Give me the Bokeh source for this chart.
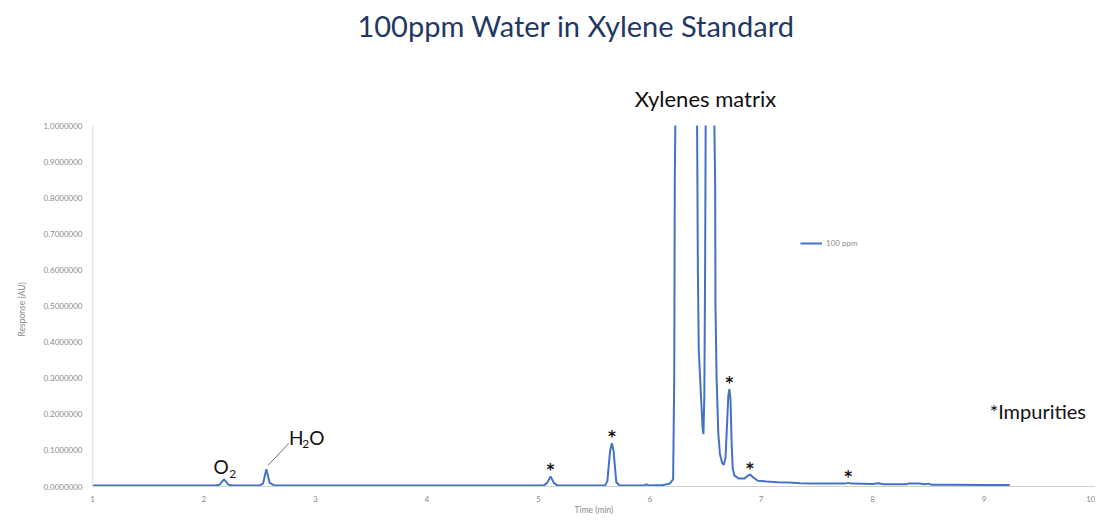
import numpy as np
from bokeh.plotting import figure
from bokeh.models import Label, FixedTicker, PrintfTickFormatter, Range1d, Title
from bokeh.embed import file_html
from bokeh.resources import INLINE

nan = float("nan")

# ---- data (off-scale readings above 1.0 are NaN) ----
time_min = [1.00, 2.10, 2.14, 2.18, 2.22, 2.26, 2.50, 2.53, 2.56, 2.59, 2.63,
            5.05, 5.08, 5.11, 5.14, 5.17, 5.60, 5.62, 5.645, 5.66, 5.675, 5.70, 5.73,
            5.95, 5.97, 5.99, 6.12, 6.18, 6.21, 6.22, 6.225, 6.23, 6.33,
            6.425, 6.432, 6.44, 6.46, 6.475, 6.482, 6.49, 6.497, 6.502, 6.54,
            6.58, 6.587, 6.59, 6.60, 6.615, 6.63, 6.65, 6.665, 6.68, 6.695, 6.705,
            6.715, 6.725, 6.735, 6.745, 6.76, 6.80, 6.85, 6.88, 6.90, 6.93, 6.97,
            7.05, 7.15, 7.25, 7.35, 7.45, 7.60, 7.75, 7.78, 7.81, 8.00, 8.05, 8.10,
            8.30, 8.32, 8.42, 8.47, 8.50, 8.53, 8.70, 9.00, 9.23]
response = [0.003, 0.003, 0.005, 0.020, 0.005, 0.003, 0.003, 0.008, 0.048, 0.010, 0.003,
            0.003, 0.010, 0.028, 0.010, 0.003, 0.003, 0.015, 0.100, 0.120, 0.100, 0.012, 0.003,
            0.003, 0.006, 0.003, 0.004, 0.008, 0.020, 0.300, 0.850, 1.000, nan,
            1.000, 0.600, 0.380, 0.250, 0.160, 0.145, 0.250, 0.600, 1.000, nan,
            1.000, 0.850, 0.500, 0.300, 0.150, 0.090, 0.065, 0.060, 0.080, 0.180, 0.250,
            0.270, 0.240, 0.120, 0.050, 0.030, 0.022, 0.022, 0.030, 0.033, 0.025, 0.016,
            0.014, 0.012, 0.011, 0.009, 0.008, 0.008, 0.008, 0.010, 0.008, 0.007, 0.009, 0.006,
            0.006, 0.008, 0.008, 0.006, 0.008, 0.005, 0.005, 0.004, 0.004]
impurity_times = [5.11, 5.66, 6.715, 6.90, 7.78]
x_ticks = [1, 2, 3, 4, 5, 6, 7, 8, 9, 10]
y_ticks = [0.0, 0.1, 0.2, 0.3, 0.4, 0.5, 0.6, 0.7, 0.8, 0.9, 1.0]
y_axis_max = 1.0
series_name = "100 ppm"

FONT = "Lato"
GREY = "#8a8a8a"
AXIS_GREY = "#d0d0d0"

W, H = 1095, 517
BOTTOM = 31
# plot frame reaches the top of the canvas so that titles can live in data space
top_value = y_axis_max * (H - BOTTOM) / 361.0

p = figure(width=W, height=H, output_backend="svg", toolbar_location=None,
           x_range=Range1d(1, 10), y_range=Range1d(0, top_value),
           min_border_left=92, min_border_right=0, min_border_top=0, min_border_bottom=BOTTOM)
p.outline_line_color = None
p.grid.visible = False
p.background_fill_color = "white"

p.line(time_min, response, line_color="#4472C4", line_width=2, legend_label=series_name)

for ax in (p.xaxis, p.yaxis):
    ax.axis_line_color = AXIS_GREY
    ax.major_tick_line_color = None
    ax.minor_tick_line_color = None
    ax.major_tick_out = 0
    ax.major_tick_in = 0
    ax.minor_tick_out = 0
    ax.minor_tick_in = 0
    ax.major_label_text_font = FONT
    ax.major_label_text_font_size = "8px"
    ax.major_label_text_color = GREY
    ax.axis_label_text_font = FONT
    ax.axis_label_text_font_size = "8.5px"
    ax.axis_label_text_font_style = "normal"
    ax.axis_label_text_color = GREY

p.yaxis.axis_line_color = None
p.segment(x0=[x_ticks[0]], y0=[0], x1=[x_ticks[0]], y1=[y_axis_max],
          line_color=AXIS_GREY, line_width=1.5)

p.xaxis.ticker = FixedTicker(ticks=x_ticks)
p.yaxis.ticker = FixedTicker(ticks=y_ticks)
p.yaxis.formatter = PrintfTickFormatter(format="%.7f")
p.xaxis.axis_label = "Time (min)"
p.xaxis.major_label_standoff = 9
p.xaxis.axis_label_standoff = 0
p.yaxis.major_label_standoff = 10

# y-axis title on the left, placed along the 0..1 span
p.add_layout(Title(text="Response (AU)", text_font=FONT, text_font_size="8.5px",
                   text_font_style="normal", text_color=GREY, align="left",
                   offset=150, standoff=27), "left")

leg = p.legend[0]
leg.location = (708, 238)
leg.border_line_color = None
leg.background_fill_alpha = 0
leg.padding = 0
leg.margin = 0
leg.glyph_width = 22
leg.glyph_height = 10
leg.label_standoff = 4
leg.label_text_font = FONT
leg.label_text_font_size = "8px"
leg.label_text_color = GREY

# titles & annotations
p.add_layout(Label(x=5.34, y=1.277, text="100ppm Water in Xylene Standard", text_font=FONT,
                   text_font_size="29px", text_color="#1F3864", text_align="center",
                   text_baseline="middle"))
p.add_layout(Label(x=6.50, y=1.075, text="Xylenes matrix", text_font=FONT,
                   text_font_size="22px", text_color="#111111", text_align="center",
                   text_baseline="middle"))
p.add_layout(Label(x=9.05, y=0.208, text="*Impurities", text_font=FONT,
                   text_font_size="20px", text_color="#111111", text_align="left",
                   text_baseline="middle"))

def sub_label(parts):
    for (tx, xx, yy, size) in parts:
        p.add_layout(Label(x=xx, y=yy, text=tx, text_font=FONT, text_font_size=size,
                           text_color="#111111", text_align="left", text_baseline="alphabetic"))

sub_label([("O", 2.086, 0.0554, "19px"), ("2", 2.228, 0.036, "12px")])
sub_label([("H", 2.763, 0.136, "19px"), ("2", 2.882, 0.119, "12px"), ("O", 2.945, 0.136, "19px")])
p.segment(x0=[2.574], y0=[0.058], x1=[2.760], y1=[0.119], line_color="#707070", line_width=1)

for t in impurity_times:
    yv = float(np.interp(t, time_min, response))
    p.add_layout(Label(x=t, y=yv, y_offset=6, text="*", text_font="DejaVu Sans",
                       text_font_size="15px", text_font_style="bold", text_color="#111111",
                       text_align="center", text_baseline="middle"))

open("out.html", "w").write(file_html(p, INLINE))
